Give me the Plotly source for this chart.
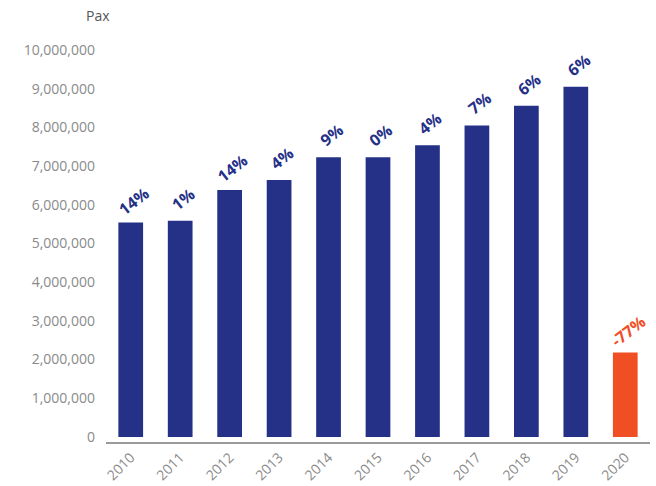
import plotly.graph_objects as go

years = ["2010", "2011", "2012", "2013", "2014", "2015", "2016", "2017", "2018", "2019", "2020"]
pax = [5540000, 5590000, 6380000, 6640000, 7230000, 7230000, 7540000, 8050000, 8560000, 9050000, 2180000]
growth = ["14%", "1%", "14%", "4%", "9%", "0%", "4%", "7%", "6%", "6%", "-77%"]
tick_vals = [0, 1000000, 2000000, 3000000, 4000000, 5000000, 6000000, 7000000, 8000000, 9000000, 10000000]
tick_text = ["0", "1,000,000", "2,000,000", "3,000,000", "4,000,000", "5,000,000",
             "6,000,000", "7,000,000", "8,000,000", "9,000,000", "10,000,000"]

NAVY = "#253087"
ORANGE = "#F04E23"
colors = [NAVY] * (len(years) - 1) + [ORANGE]

fig = go.Figure(go.Bar(x=years, y=pax, marker=dict(color=colors, line=dict(width=0)),
                       hoverinfo="skip"))

for i, (v, g, c) in enumerate(zip(pax, growth, colors)):
    fig.add_annotation(x=i, y=v, text="<b>%s</b>" % g, showarrow=False,
                       textangle=-38, yshift=22, xshift=3,
                       font=dict(family="Open Sans, sans-serif", size=16, color=c))

fig.add_annotation(xref="paper", yref="paper", x=0.011, y=1.0, yshift=35,
                   text="Pax", showarrow=False, xanchor="right", yanchor="middle",
                   font=dict(family="Open Sans, sans-serif", size=14, color="#555555"))

fig.update_layout(
    width=656, height=486,
    margin=dict(l=106, r=6, t=50, b=44),
    paper_bgcolor="white", plot_bgcolor="white",
    bargap=0.5, showlegend=False,
    xaxis=dict(type="category", categoryorder="array", categoryarray=years,
               range=[-0.5, len(years) - 0.5], automargin=False,
               showline=True, linecolor="#9a9a9a", linewidth=1.5, ticks="",
               tickangle=-45, showgrid=False, ticklabelstandoff=0,
               tickfont=dict(family="Open Sans, sans-serif", size=14, color="#8a8a8a")),
    yaxis=dict(range=[-130000, 10000000], tickvals=tick_vals, ticktext=tick_text,
               automargin=False,
               showgrid=False, zeroline=False, showline=False, ticks="",
               ticklabelstandoff=10,
               tickfont=dict(family="Open Sans, sans-serif", size=14, color="#8a8a8a")),
)

fig.write_html("out.html", config={"displayModeBar": False},
               post_script="document.body.style.margin='0';document.body.style.overflow='hidden';")
